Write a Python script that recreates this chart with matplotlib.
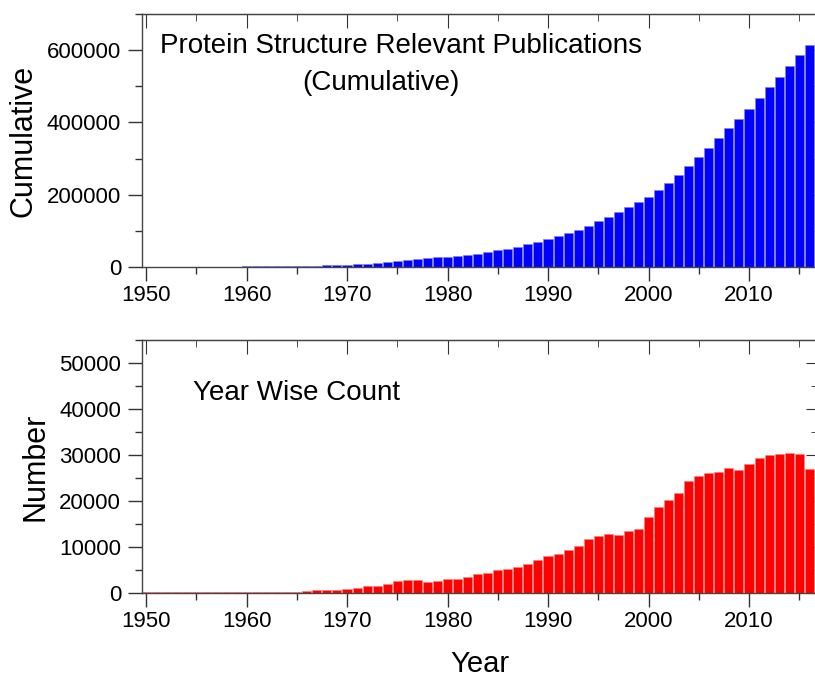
import matplotlib
matplotlib.use("Agg")
import matplotlib.pyplot as plt
from matplotlib import ticker

plt.rcParams['font.family'] = ['Liberation Sans', 'DejaVu Sans']

years = list(range(1950, 2018))

# cumulative publications
cumulative = [
    100, 250, 350, 500, 600, 750, 850, 1000, 1100, 1250,
    1450, 1700, 1950, 2200, 2450, 2700, 3300, 3900, 4500, 5100,
    6400, 8000, 9600, 11200, 13200, 15800, 18600, 21400, 23800, 26600,
    28500, 31000, 34000, 37000, 41300, 46800, 50400, 55900, 62400, 69700,
    77000, 85300, 93500, 103700, 114700, 127400, 139400, 151300, 165000, 178800,
    194500, 213700, 233000, 255800, 279700, 304500, 330100, 356700, 383300, 409900,
    437400, 466800, 497100, 526300, 556500, 587800, 613500, 635500,
]

# publications per year
yearly = [
    110, 120, 120, 130, 130, 140, 150, 150, 160, 170,
    220, 230, 240, 250, 260, 280, 430, 550, 600, 650,
    850, 1150, 1550, 1550, 2000, 2550, 2800, 2800, 2450, 2700,
    3030, 3100, 3460, 4110, 4330, 4980, 5270, 5560, 6200, 7140,
    8000, 8370, 9300, 10170, 11690, 12480, 12770, 12550, 13420, 13850,
    16515, 18760, 20130, 21790, 24240, 25470, 26190, 26330, 27270, 26840,
    28070, 29370, 30090, 30230, 30520, 30300, 27060, 23010,
]

W, H = 815, 678
fig = plt.figure(figsize=(W / 100, H / 100), dpi=100)

x0, x1 = 1949.6, 2016.8
left = 142 / W
width = (x1 - x0) * 10.05 / W
ax1 = fig.add_axes([left, 1 - 267 / H, width, 253 / H])
ax2 = fig.add_axes([left, 1 - 593 / H, width, 253 / H])


def style(ax, ymax, major, minor):
    ax.set_xlim(x0, x1)
    ax.set_ylim(0, ymax)
    ax.xaxis.set_major_locator(ticker.MultipleLocator(10))
    ax.xaxis.set_minor_locator(ticker.MultipleLocator(5))
    ax.yaxis.set_major_locator(ticker.MultipleLocator(major))
    ax.yaxis.set_minor_locator(ticker.MultipleLocator(minor))
    ax.yaxis.set_major_formatter(ticker.FormatStrFormatter('%d'))
    ax.tick_params(which='major', direction='out', length=10, width=1,
                   labelsize=16, pad=3, color='#333333')
    ax.tick_params(which='minor', direction='out', length=5, width=1,
                   color='#333333')
    ax.tick_params(axis='y', pad=5)
    for s in ax.spines.values():
        s.set_color('#444444')
        s.set_linewidth(1)

    # inward ticks on the top and right frame
    top = ax.secondary_xaxis('top')
    top.xaxis.set_major_locator(ticker.MultipleLocator(10))
    top.xaxis.set_minor_locator(ticker.MultipleLocator(5))
    top.tick_params(which='major', direction='in', length=10, labeltop=False,
                    color='#333333')
    top.tick_params(which='minor', direction='in', length=5, color='#333333')
    top.spines['top'].set_color('#444444')
    right = ax.secondary_yaxis('right')
    right.yaxis.set_major_locator(ticker.MultipleLocator(major))
    right.yaxis.set_minor_locator(ticker.MultipleLocator(minor))
    right.tick_params(which='major', direction='in', length=8, labelright=False,
                      color='#333333')
    right.tick_params(which='minor', direction='in', length=4, color='#333333')


ax1.bar(years, cumulative, width=0.9, color='#0000ff',
        edgecolor='#7f7fff', linewidth=0.5)
style(ax1, 700000, 200000, 100000)
ax1.set_ylabel('Cumulative', fontsize=22, labelpad=6)

ax2.bar(years, yearly, width=0.9, color='#ff0000',
        edgecolor='#ff8080', linewidth=0.5)
style(ax2, 55000, 10000, 5000)
ax2.set_ylabel('Number', fontsize=22, labelpad=6)
ax2.set_xlabel('Year', fontsize=21, labelpad=13)

fig.text(160 / W, 1 - 53 / H, 'Protein Structure Relevant Publications',
         fontsize=20, ha='left', va='baseline')
fig.text(302 / W, 1 - 90 / H, '(Cumulative)',
         fontsize=20, ha='left', va='baseline')
fig.text(193 / W, 1 - 400 / H, 'Year Wise Count',
         fontsize=20, ha='left', va='baseline')

fig.savefig('out.png', dpi=100)
